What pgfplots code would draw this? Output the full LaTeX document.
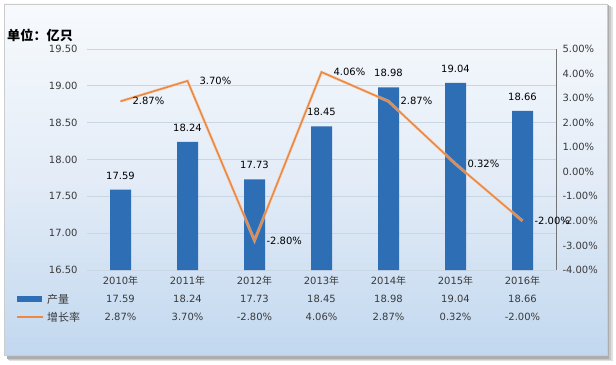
\documentclass[border=0pt]{standalone}
\usepackage{pgfplots}
\pgfplotsset{compat=1.18}
\usepackage{fontspec}
\setmainfont{DejaVu Sans}
\newfontfamily\cjk{Noto Sans CJK SC}
\definecolor{barblue}{HTML}{2E6EB5}
\definecolor{lineor}{HTML}{EC8840}
\definecolor{txt}{HTML}{3A3A3A}
\definecolor{gridc}{HTML}{C9D6E4}
\definecolor{bgtop}{HTML}{F7FAFD}
\definecolor{bgmid}{HTML}{E3ECF7}
\definecolor{bgbot}{HTML}{C2D8EF}
\begin{document}
\begin{tikzpicture}[x=1bp,y=1bp]
\fill[white] (0,0) rectangle (616,364);
\fill[black!12] (9,3) rectangle (613,357);
\fill[black!22] (8,4) rectangle (611,358);
\fill[black!32] (7,5) rectangle (609,359);
\shade[top color=bgtop, bottom color=bgbot, middle color=bgmid] (4,9) rectangle (607,360);
\draw[black!20, line width=0.6bp] (4,9) rectangle (607,360);
\node[anchor=west, font=\cjk\bfseries\fontsize{13.2}{15}\selectfont, inner sep=0] at (7,329) {单位：亿只};
% legend keys of data table
\fill[barblue] (17,62) rectangle (42,68);
\draw[lineor, line width=1.6bp] (17,47) -- (43,47);
\node[anchor=west, font=\cjk\fontsize{11}{12}\selectfont, text=txt, inner sep=0] at (47,65) {产量};
\node[anchor=west, font=\cjk\fontsize{11}{12}\selectfont, text=txt, inner sep=0] at (47,47) {增长率};
\begin{axis}[
  name=main,
  at={(87bp,94bp)}, anchor=south west, scale only axis,
  width=469bp, height=221bp,
  xmin=-0.5, xmax=6.5, ymin=16.5, ymax=19.5,
  ytick={16.5,17,17.5,18,18.5,19,19.5},
  yticklabel={\pgfmathprintnumber[fixed,fixed zerofill,precision=2]{\tick}},
  /pgf/number format/assume math mode=true,
  axis line style={draw=none},
  major tick length=0,
  ymajorgrids, grid style={gridc, line width=0.8bp},
  yticklabel style={font=\fontsize{10}{11}\selectfont, text=txt, xshift=-6bp},
  xtick={0,...,6},
  xticklabels={
    {2010{\cjk 年}\\17.59\\2.87\%},
    {2011{\cjk 年}\\18.24\\3.70\%},
    {2012{\cjk 年}\\17.73\\-2.80\%},
    {2013{\cjk 年}\\18.45\\4.06\%},
    {2014{\cjk 年}\\18.98\\2.87\%},
    {2015{\cjk 年}\\19.04\\0.32\%},
    {2016{\cjk 年}\\18.66\\-2.00\%}},
  xticklabel style={font=\fontsize{10}{18}\selectfont, text=txt, align=center, anchor=north, yshift=-3bp},
  clip=false,
  ybar, bar width=21bp,
  nodes near coords={\pgfmathprintnumber[fixed,fixed zerofill,precision=2]{\pgfplotspointmeta}},
  nodes near coords style={font=\fontsize{10}{11}\selectfont, text=black, yshift=7bp},
]
\addplot[fill=barblue, draw=none] coordinates {(0,17.59) (1,18.24) (2,17.73) (3,18.45) (4,18.98) (5,19.04) (6,18.66)};
\end{axis}
\begin{axis}[
  at={(main.south west)}, anchor=south west, scale only axis,
  width=469bp, height=221bp,
  xmin=-0.5, xmax=6.5, ymin=-4, ymax=5,
  axis x line=none, axis y line*=right,
  y axis line style={draw=black!55, line width=0.6bp},
  ytick={-4,-3,...,5},
  yticklabel={\pgfmathprintnumber[fixed,fixed zerofill,precision=2]{\tick}\%},
  /pgf/number format/assume math mode=true,
  major tick length=0,
  yticklabel style={font=\fontsize{10}{11}\selectfont, text=txt, xshift=3bp},
  clip=false,
]
\addplot[lineor!45, line width=3bp, opacity=0.6, forget plot] coordinates {(0,2.87) (1,3.70) (2,-2.80) (3,4.06) (4,2.87) (5,0.32) (6,-2.00)};
\addplot[lineor, line width=1.6bp, mark=none,
  nodes near coords={\pgfmathprintnumber[fixed,fixed zerofill,precision=2]{\pgfplotspointmeta}\%},
  nodes near coords style={font=\fontsize{10}{11}\selectfont, text=black, anchor=west, xshift=8bp},
] coordinates {(0,2.87) (1,3.70) (2,-2.80) (3,4.06) (4,2.87) (5,0.32) (6,-2.00)};
\end{axis}
\pgfresetboundingbox
\useasboundingbox (0,0) rectangle (616,364);
\end{tikzpicture}
\end{document}
